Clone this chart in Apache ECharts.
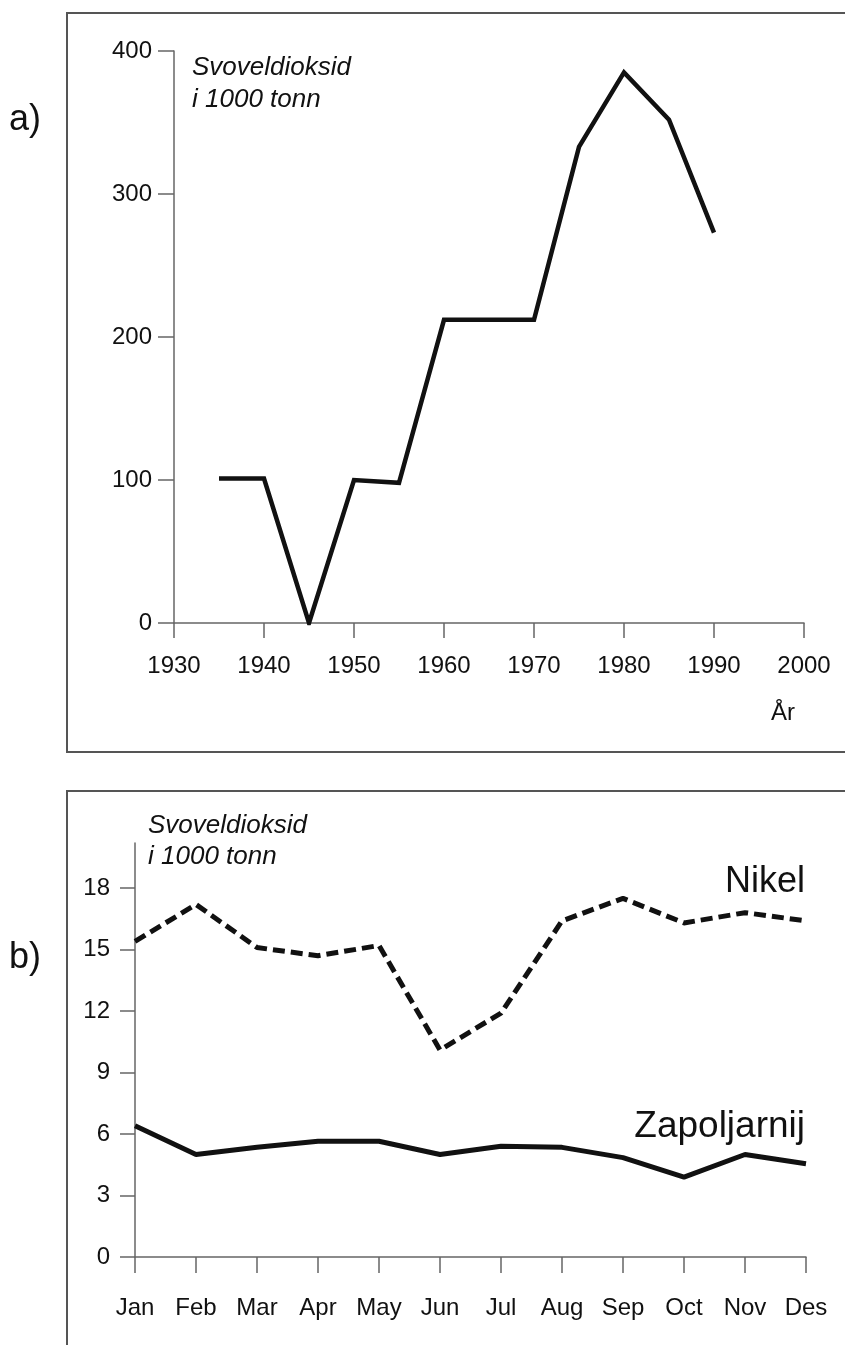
<!DOCTYPE html>
<html>
<head>
<meta charset="utf-8">
<script src="https://cdn.jsdelivr.net/npm/echarts@6/dist/echarts.min.js"></script>
<style>
html,body{margin:0;padding:0;background:#fff;}
#c{width:845px;height:1345px;}
</style>
</head>
<body>
<div id="c"></div>
<script>
// ---- Data: chart a) ----
const yearsA = [1935, 1940, 1945, 1950, 1955, 1960, 1965, 1970, 1975, 1980, 1985, 1990];
const valuesA = [101, 101, 0, 100, 98, 212, 212, 212, 333, 385, 352, 273];
const yTicksA = [0, 100, 200, 300, 400];
const xTicksA = [1930, 1940, 1950, 1960, 1970, 1980, 1990, 2000];

// ---- Data: chart b) ----
const months = ['Jan', 'Feb', 'Mar', 'Apr', 'May', 'Jun', 'Jul', 'Aug', 'Sep', 'Oct', 'Nov', 'Des'];
const nikel = [15.4, 17.2, 15.1, 14.7, 15.2, 10.1, 11.9, 16.4, 17.5, 16.3, 16.8, 16.4];
const zapoljarnij = [6.4, 5.0, 5.35, 5.65, 5.65, 5.0, 5.4, 5.35, 4.85, 3.9, 5.0, 4.55];
const yTicksB = [0, 3, 6, 9, 12, 15, 18];

const FONT = 'Liberation Sans, Arial, Helvetica, sans-serif';
const AX = '#666';
const TXT = '#111';

const chart = echarts.init(document.getElementById('c'), null, {renderer: 'canvas'});

const axisLine = {show: true, lineStyle: {color: AX, width: 1.5}};
const tickStyle = {color: AX, width: 1.5};

const option = {
  backgroundColor: '#fff',
  animation: false,
  grid: [
    {left: 174, top: 51, width: 630, height: 572, containLabel: false},
    {left: 135, top: 843, width: 671, height: 414, containLabel: false}
  ],
  xAxis: [
    {
      gridIndex: 0, type: 'value', min: 1930, max: 2000, interval: 10,
      axisLine: axisLine,
      axisTick: {show: true, length: 15, lineStyle: tickStyle},
      axisLabel: {color: TXT, fontSize: 24, fontFamily: FONT, margin: 31,
                  customValues: xTicksA, formatter: v => String(v)},
      splitLine: {show: false}
    },
    {
      gridIndex: 1, type: 'category', data: months, boundaryGap: false,
      axisLine: axisLine,
      axisTick: {show: true, length: 16, interval: 0, lineStyle: tickStyle},
      axisLabel: {color: TXT, fontSize: 24, fontFamily: FONT, margin: 39, interval: 0},
      splitLine: {show: false}
    }
  ],
  yAxis: [
    {
      gridIndex: 0, type: 'value', min: 0, max: 400, interval: 100,
      axisLine: axisLine,
      axisTick: {show: true, length: 16, lineStyle: tickStyle},
      axisLabel: {color: TXT, fontSize: 24, fontFamily: FONT, margin: 22,
                  customValues: yTicksA, formatter: v => String(v)},
      splitLine: {show: false}
    },
    {
      gridIndex: 1, type: 'value', min: 0, max: 20.2,
      axisLine: axisLine,
      axisTick: {show: true, length: 15, lineStyle: tickStyle, customValues: yTicksB},
      axisLabel: {color: TXT, fontSize: 24, fontFamily: FONT, margin: 25, customValues: yTicksB},
      splitLine: {show: false}
    }
  ],
  series: [
    {
      type: 'line', xAxisIndex: 0, yAxisIndex: 0,
      data: yearsA.map((y, i) => [y, valuesA[i]]),
      symbol: 'none', lineStyle: {color: '#111', width: 4.5, join: 'miter'},
      silent: true
    },
    {
      name: 'Nikel', type: 'line', xAxisIndex: 1, yAxisIndex: 1,
      data: nikel, symbol: 'none',
      lineStyle: {color: '#111', width: 5, type: [12, 6]},
      silent: true
    },
    {
      name: 'Zapoljarnij', type: 'line', xAxisIndex: 1, yAxisIndex: 1,
      data: zapoljarnij, symbol: 'none',
      lineStyle: {color: '#111', width: 5},
      silent: true
    }
  ],
  graphic: [
    {type: 'rect', shape: {x: 67, y: 13, width: 820, height: 739}, style: {fill: 'none', stroke: '#555', lineWidth: 2}, silent: true},
    {type: 'rect', shape: {x: 67, y: 791, width: 820, height: 620}, style: {fill: 'none', stroke: '#555', lineWidth: 2}, silent: true},
    {type: 'text', x: 9, y: 120, style: {text: 'a)', font: '36px ' + FONT, fill: TXT, verticalAlign: 'middle'}},
    {type: 'text', x: 9, y: 958, style: {text: 'b)', font: '36px ' + FONT, fill: TXT, verticalAlign: 'middle'}},
    {type: 'text', x: 192, y: 68, style: {text: 'Svoveldioksid', font: 'italic 26px ' + FONT, fill: TXT, verticalAlign: 'middle'}},
    {type: 'text', x: 192, y: 100, style: {text: 'i 1000 tonn', font: 'italic 26px ' + FONT, fill: TXT, verticalAlign: 'middle'}},
    {type: 'text', x: 148, y: 826, style: {text: 'Svoveldioksid', font: 'italic 26px ' + FONT, fill: TXT, verticalAlign: 'middle'}},
    {type: 'text', x: 148, y: 857, style: {text: 'i 1000 tonn', font: 'italic 26px ' + FONT, fill: TXT, verticalAlign: 'middle'}},
    {type: 'text', x: 783, y: 713, style: {text: 'År', font: '24px ' + FONT, fill: TXT, align: 'center', verticalAlign: 'middle'}},
    {type: 'text', x: 805, y: 882, style: {text: 'Nikel', font: '36px ' + FONT, fill: TXT, align: 'right', verticalAlign: 'middle'}},
    {type: 'text', x: 805, y: 1127, style: {text: 'Zapoljarnij', font: '37px ' + FONT, fill: TXT, align: 'right', verticalAlign: 'middle'}}
  ]
};
chart.setOption(option);
</script>
</body>
</html>
